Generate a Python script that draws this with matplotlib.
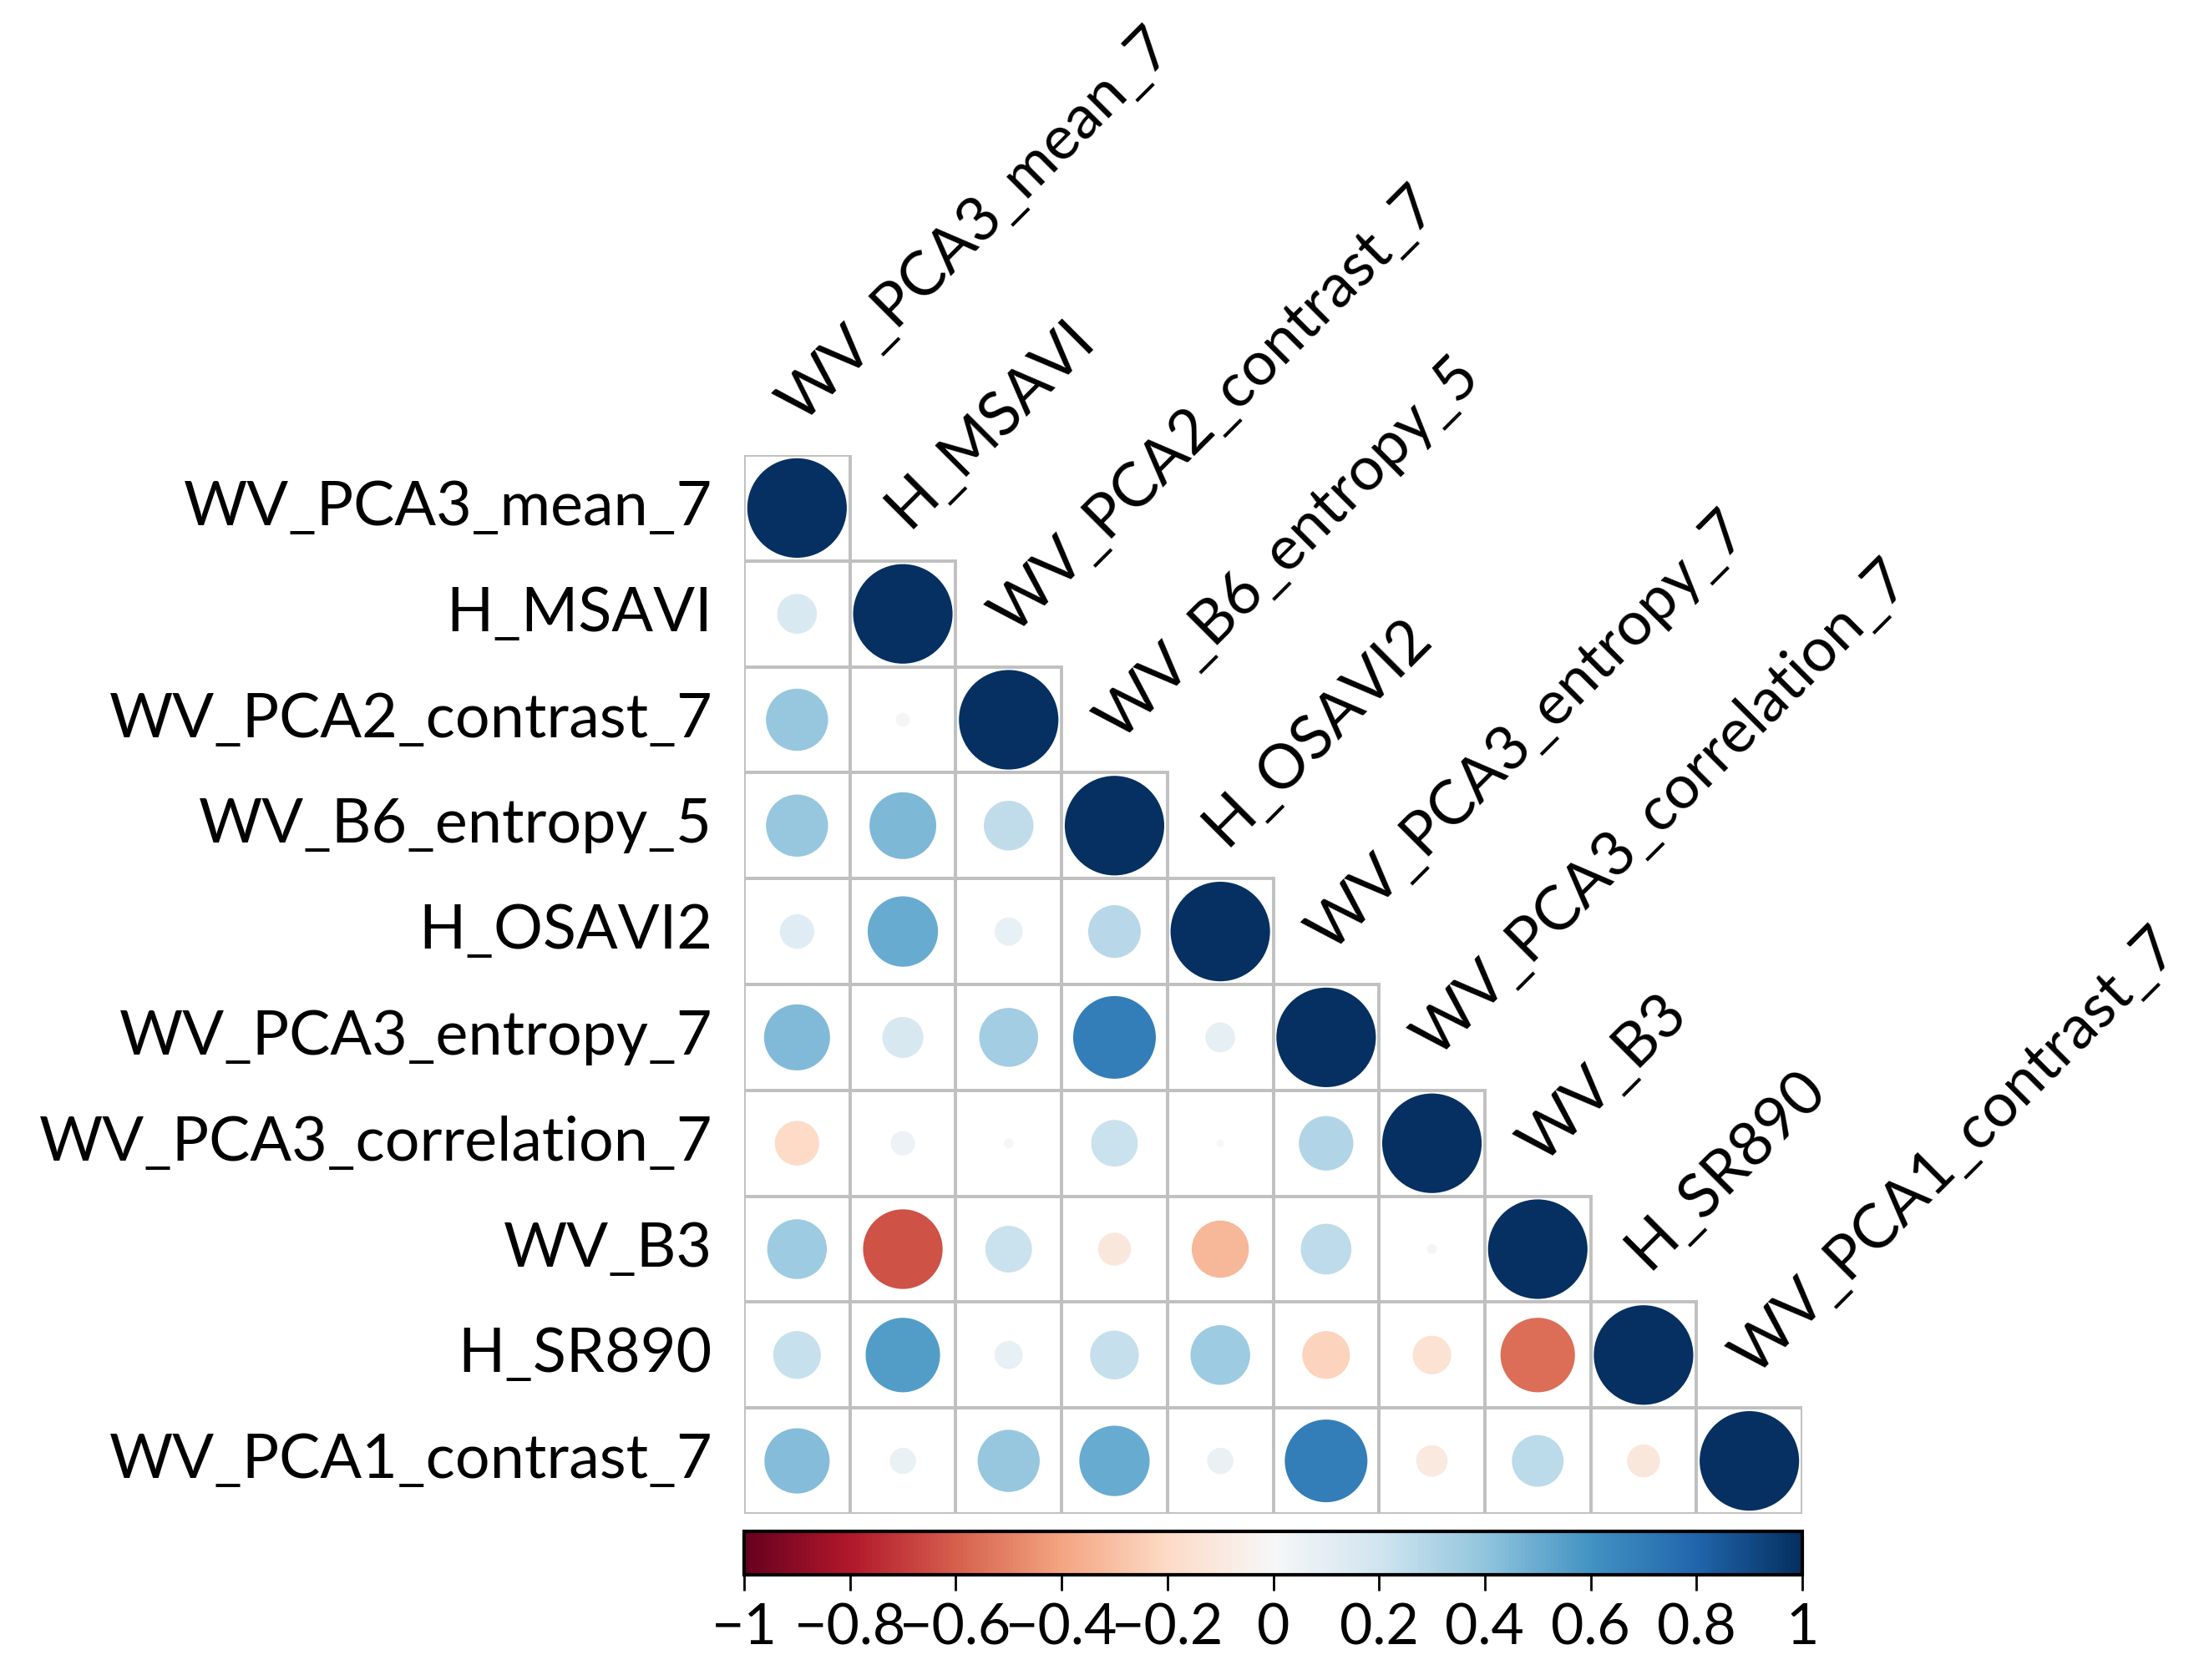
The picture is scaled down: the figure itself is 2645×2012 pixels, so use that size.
import numpy as np
import matplotlib
matplotlib.use("Agg")
import matplotlib.pyplot as plt
from matplotlib.patches import Circle, Rectangle
from matplotlib import cm
from matplotlib.colors import Normalize

plt.rcParams['font.family'] = ['Lato', 'DejaVu Sans']

# variable names (rows top->bottom, columns left->right)
labels = ['WV_PCA3_mean_7', 'H_MSAVI', 'WV_PCA2_contrast_7', 'WV_B6_entropy_5',
          'H_OSAVI2', 'WV_PCA3_entropy_7', 'WV_PCA3_correlation_7', 'WV_B3',
          'H_SR890', 'WV_PCA1_contrast_7']

# lower triangle of the correlation matrix, row by row (diagonal included)
r_mean7 = [1.0]
r_msavi = [0.16, 1.0]
r_pca2c = [0.39, 0.02, 1.0]
r_b6ent = [0.39, 0.45, 0.25, 1.0]
r_osavi = [0.12, 0.50, 0.08, 0.28, 1.0]
r_pca3e = [0.44, 0.17, 0.35, 0.69, 0.09, 1.0]
r_pca3r = [-0.20, 0.06, 0.01, 0.22, 0.006, 0.30, 1.0]
r_b3 = [0.36, -0.64, 0.22, -0.11, -0.33, 0.26, -0.01, 1.0]
r_sr890 = [0.23, 0.56, 0.08, 0.24, 0.36, -0.23, -0.15, -0.56, 1.0]
r_pca1c = [0.43, 0.07, 0.39, 0.50, 0.07, 0.69, -0.10, 0.27, -0.11, 1.0]
rows = [r_mean7, r_msavi, r_pca2c, r_b6ent, r_osavi, r_pca3e, r_pca3r, r_b3, r_sr890, r_pca1c]

cbar_ticks = [-1, -0.8, -0.6, -0.4, -0.2, 0, 0.2, 0.4, 0.6, 0.8, 1]
cbar_labels = ['\u22121', '\u22120.8', '\u22120.6', '\u22120.4', '\u22120.2', '0',
               '0.2', '0.4', '0.6', '0.8', '1']

W, H = 2645, 2012
fig = plt.figure(figsize=(W / 100, H / 100), dpi=100)
n = len(labels)

# main grid axes placed in pixel coordinates
x0, x1, y0, y1 = 891, 2158, 545, 1813
ax = fig.add_axes([x0 / W, 1 - y1 / H, (x1 - x0) / W, (y1 - y0) / H])
ax.set_xlim(0, n)
ax.set_ylim(n, 0)
ax.axis('off')

cmap = matplotlib.colormaps['RdBu']
norm = Normalize(-1, 1)
fs = 53

for i, row in enumerate(rows):
    for j, r in enumerate(row):
        ax.add_patch(Rectangle((j, i), 1, 1, fill=False, ec='#c0c0c0', lw=2.8, zorder=1))
        rad = 0.47 * np.sqrt(abs(r))
        ax.add_patch(Circle((j + 0.5, i + 0.5), rad, fc=cmap(norm(r)), ec='none', zorder=2))

for i, lab in enumerate(labels):
    ax.text(-0.3, i + 0.5, lab, ha='right', va='center', fontsize=fs, clip_on=False)
    ax.text(i + 0.62, i - 0.22, lab, ha='left', va='bottom', rotation=45,
            rotation_mode='anchor', fontsize=fs, clip_on=False)

# colour legend
cax = fig.add_axes([x0 / W, 1 - 1886 / H, (x1 - x0) / W, 52 / H])
sm = cm.ScalarMappable(norm=norm, cmap=cmap)
cb = fig.colorbar(sm, cax=cax, orientation='horizontal')
cb.outline.set_linewidth(3)
cb.set_ticks(cbar_ticks)
cb.set_ticklabels(cbar_labels)
cax.tick_params(labelsize=49, length=14, width=2, pad=10)

fig.savefig('out.png', dpi=100)
